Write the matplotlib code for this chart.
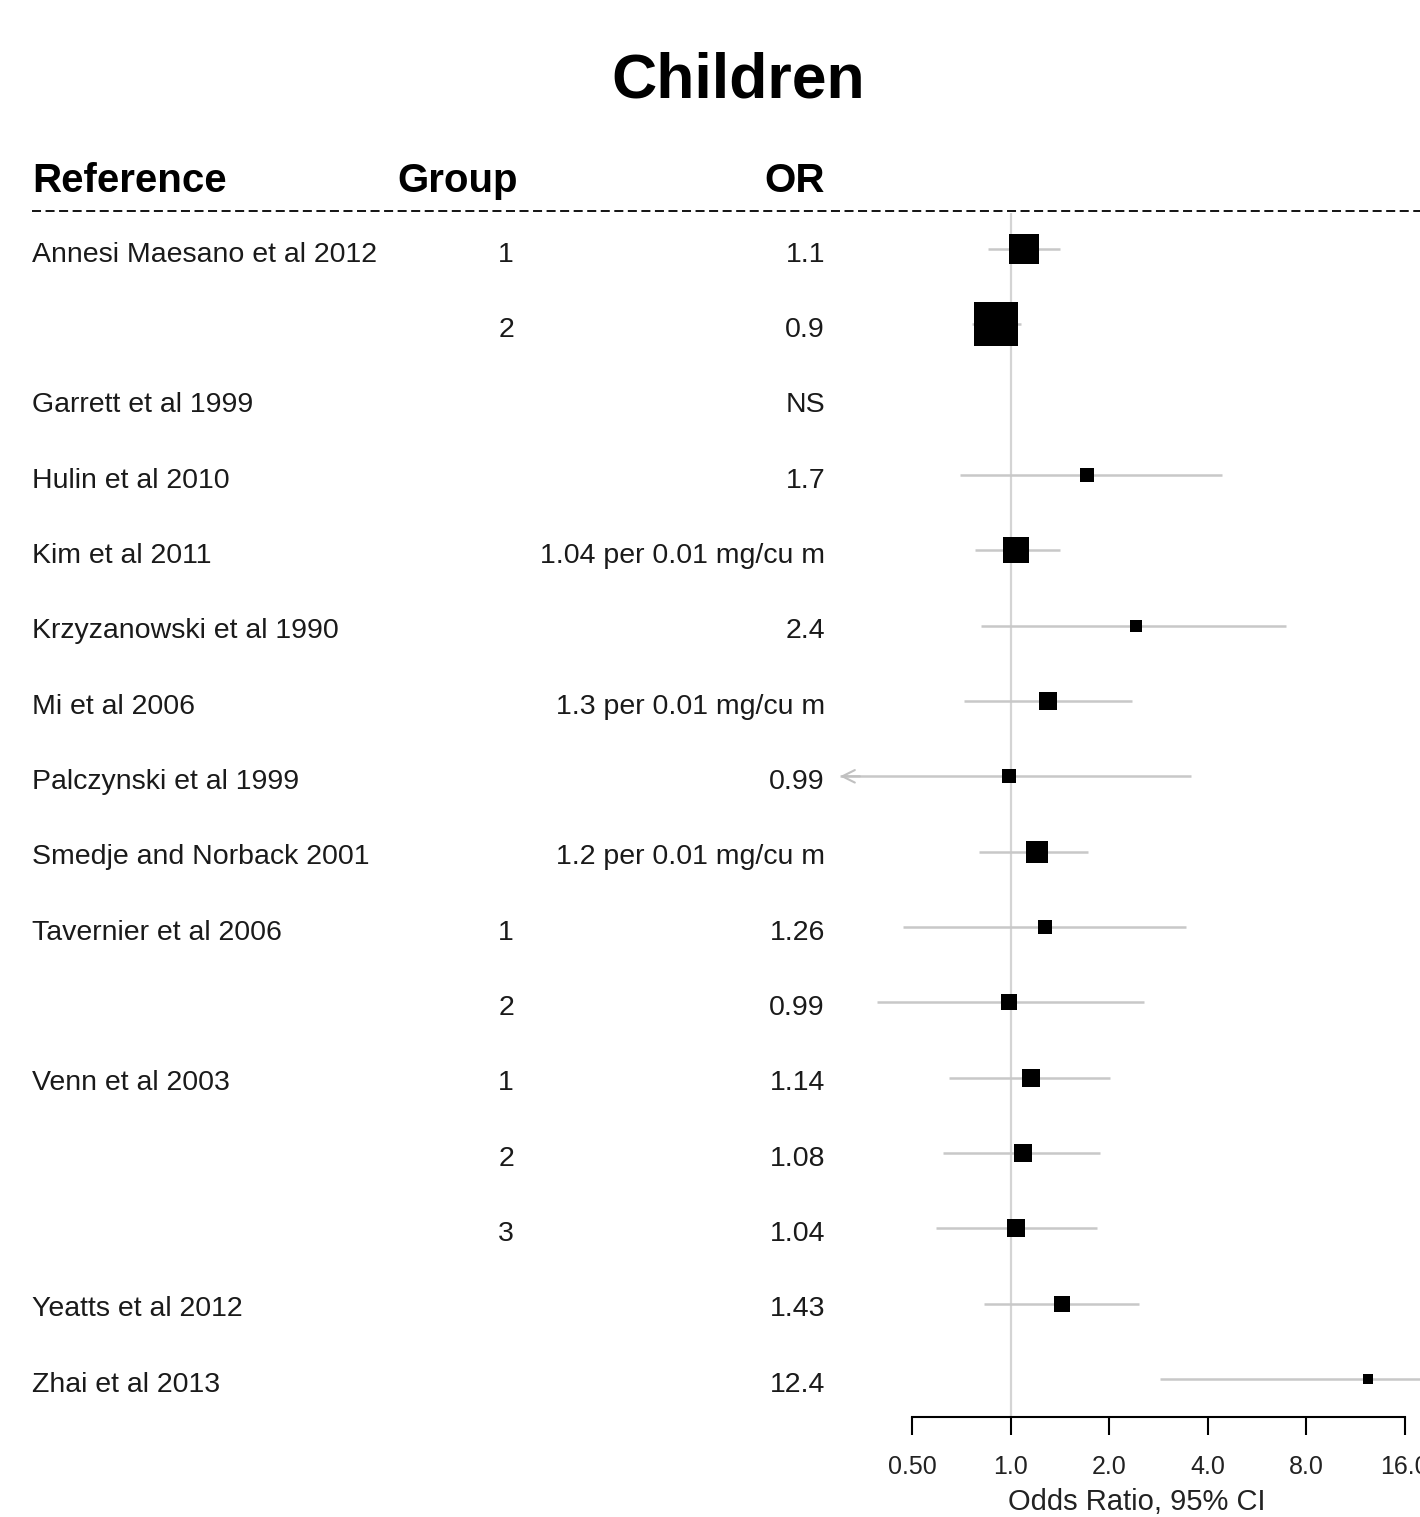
import numpy as np
import matplotlib
matplotlib.use('Agg')
import matplotlib.pyplot as plt
from matplotlib.lines import Line2D
from matplotlib.transforms import blended_transform_factory

plt.rcParams['font.family'] = ['Liberation Sans', 'DejaVu Sans']

# datos
refs = ['Annesi Maesano et al 2012', '', 'Garrett et al 1999', 'Hulin et al 2010',
        'Kim et al 2011', 'Krzyzanowski et al 1990', 'Mi et al 2006',
        'Palczynski et al 1999', 'Smedje and Norback 2001', 'Tavernier et al 2006',
        '', 'Venn et al 2003', '', '', 'Yeatts et al 2012', 'Zhai et al 2013']
groups = ['1', '2', '', '', '', '', '', '', '', '1', '2', '1', '2', '3', '', '']
or_text = ['1.1', '0.9', 'NS', '1.7', '1.04 per 0.01 mg/cu m', '2.4',
           '1.3 per 0.01 mg/cu m', '0.99', '1.2 per 0.01 mg/cu m', '1.26', '0.99',
           '1.14', '1.08', '1.04', '1.43', '12.4']
mean = [1.10, 0.90, np.nan, 1.71, 1.04, 2.41, 1.30, 0.99, 1.20, 1.27, 0.99,
        1.15, 1.09, 1.04, 1.43, 12.4]
lower = [0.85, 0.76, np.nan, 0.70, 0.78, 0.81, 0.72, 0.20, 0.80, 0.47, 0.39,
         0.65, 0.62, 0.59, 0.83, 2.86]
upper = [1.41, 1.075, np.nan, 4.41, 1.41, 6.93, 2.34, 3.56, 1.72, 3.43, 2.55,
         2.01, 1.87, 1.84, 2.47, 30.0]
weights = [30, 44, np.nan, 14, 26, 12.5, 18, 14, 22, 14, 16, 18, 18, 18, 16, 10]

xticks = [0.5, 1, 2, 4, 8, 16]
xticklabels = ['0.50', '1.0', '2.0', '4.0', '8.0', '16.0']

W, H = 1420, 1517
fig = plt.figure(figsize=(W / 100, H / 100), dpi=100)

# ejes del forest plot (en pixeles)
left, right, top, bottom = 840, 1420, 213, 1417
ax = fig.add_axes([left / W, 1 - bottom / H, (right - left) / W, (bottom - top) / H])
ax.set_xscale('log', base=2)
x0, k = 1010.7, 98.5  # pixel de OR=1, pixeles por duplicacion
ax.set_xlim(2 ** ((left - x0) / k), 2 ** ((right - x0) / k))
n = len(refs)
ax.set_ylim(n - 0.495, -0.478)

ax.axvline(1, color='#d4d4d4', lw=1.6, zorder=1)

xmin = ax.get_xlim()[0]
for i in range(n):
    if np.isnan(mean[i]):
        continue
    lo = max(lower[i], xmin)
    ax.plot([lo, upper[i]], [i, i], color='#c8c8c8', lw=1.8, zorder=2,
            solid_capstyle='butt')
    if lower[i] < xmin:
        # flecha abierta cuando el IC se sale por la izquierda
        ax.annotate('', xy=(xmin, i), xytext=(xmin * 1.15, i),
                    arrowprops=dict(arrowstyle='->,head_length=0.9,head_width=0.45',
                                    color='#c0c0c0', lw=1.5, shrinkA=0, shrinkB=0),
                    annotation_clip=False)
    ax.plot(mean[i], i, marker='s', color='black', markersize=weights[i] * 0.72,
            markeredgewidth=0, zorder=3)

for s in ['top', 'right', 'left']:
    ax.spines[s].set_visible(False)
ax.spines['bottom'].set_bounds(0.5, 16)
ax.spines['bottom'].set_linewidth(1.5)
ax.set_yticks([])
ax.set_xticks(xticks)
ax.set_xticklabels(xticklabels)
ax.minorticks_off()
ax.tick_params(axis='x', direction='out', length=13, width=1.5, pad=14,
               labelsize=18, labelcolor='#222222')
ax.text((1137 - left) / (right - left), 1 - (1510 - top) / (bottom - top),
        'Odds Ratio, 95% CI', transform=ax.transAxes, ha='center', va='baseline',
        fontsize=21, color='#222222')

# columnas de texto
tr = blended_transform_factory(fig.transFigure, ax.transData)
for i in range(n):
    yt = i + 0.17
    if refs[i]:
        fig.text(32 / W, yt, refs[i], transform=tr, ha='left', va='baseline',
                 fontsize=20.5, color='#1a1a1a')
    if groups[i]:
        fig.text(514 / W, yt, groups[i], transform=tr, ha='right', va='baseline',
                 fontsize=20.5, color='#1a1a1a')
    fig.text(825 / W, yt, or_text[i], transform=tr, ha='right', va='baseline',
             fontsize=20.5, color='#1a1a1a')

# encabezados
fig.text(32 / W, 1 - 192 / H, 'Reference', ha='left', va='baseline',
         fontsize=29, fontweight='bold')
fig.text(397 / W, 1 - 192 / H, 'Group', ha='left', va='baseline',
         fontsize=29, fontweight='bold')
fig.text(825 / W, 1 - 192 / H, 'OR', ha='right', va='baseline',
         fontsize=29, fontweight='bold')
fig.add_artist(Line2D([32 / W, 1], [1 - 211 / H, 1 - 211 / H], transform=fig.transFigure,
                      color='black', lw=1.3, linestyle=(0, (5, 2.5))))

fig.text(738 / W, 1 - 97 / H, 'Children', ha='center', va='baseline',
         fontsize=45, fontweight='bold')

fig.savefig('out.png', dpi=100)
